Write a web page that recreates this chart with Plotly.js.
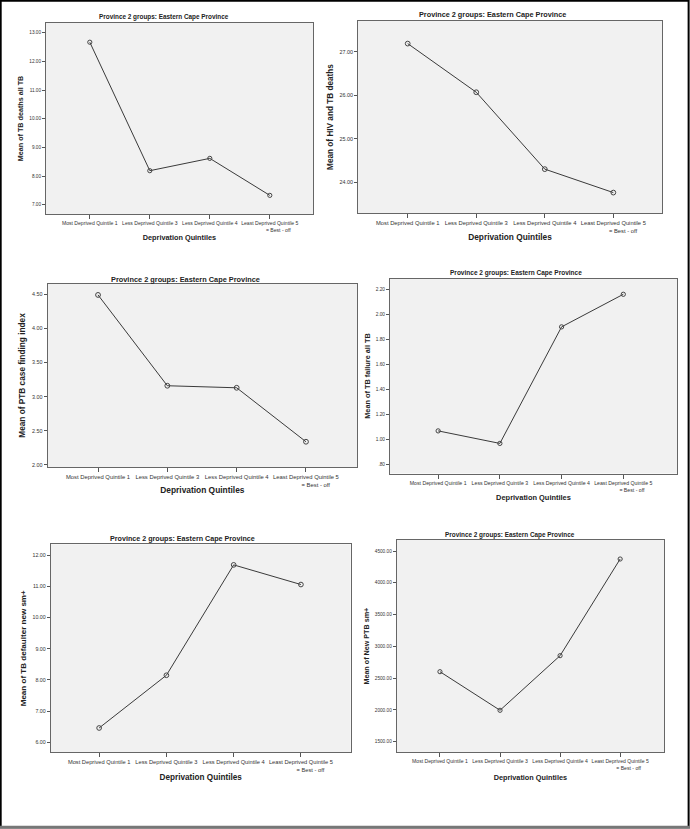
<!DOCTYPE html>
<html>
<head>
<meta charset="utf-8">
<script src="https://cdn.plot.ly/plotly-3.0.1.min.js"></script>
<style>
  html, body { margin: 0; padding: 0; background: #ffffff; }
  #chart { width: 690px; height: 829px; }
</style>
</head>
<body>
<div id="chart"></div>
<script>
// ---------------- DATA ----------------
const categories = [
  "Most Deprived Quintile 1",
  "Less Deprived Quintile 3",
  "Less Deprived Quintile 4",
  "Least Deprived Quintile 5 = Best - off"
];
const categoryTickLabels = [
  "Most Deprived Quintile 1",
  "Less Deprived Quintile 3",
  "Less Deprived Quintile 4",
  "Least Deprived Quintile 5<br>" + "\u00a0".repeat(12) + "= Best - off"
];
const panelTitle = "Province 2 groups: Eastern Cape Province";
const xAxisTitle = "Deprivation Quintiles";

const tbDeathsAll      = [12.67, 8.19, 8.62, 7.33];
const hivTbDeaths      = [27.19, 26.07, 24.30, 23.76];
const ptbCaseFinding   = [4.49, 3.16, 3.13, 2.34];
const tbFailureAll     = [1.07, 0.97, 1.90, 2.16];
const tbDefaulterNewSm = [6.46, 8.15, 11.69, 11.06];
const newPtbSm         = [2601, 1994, 2853, 4374];

const yTitles = [
  "Mean of TB deaths all TB",
  "Mean of HIV and TB deaths",
  "Mean of PTB case finding index",
  "Mean of TB failure all TB",
  "Mean of TB defaulter new sm+",
  "Mean of New PTB sm+"
];

const ticksDeaths    = [7, 8, 9, 10, 11, 12, 13];
const ticksHivTb     = [24, 25, 26, 27];
const ticksCaseFind  = [2.0, 2.5, 3.0, 3.5, 4.0, 4.5];
const ticksFailure   = [0.8, 1.0, 1.2, 1.4, 1.6, 1.8, 2.0, 2.2];
const ticksDefaulter = [6, 7, 8, 9, 10, 11, 12];
const ticksNewPtb    = [1500, 2000, 2500, 3000, 3500, 4000, 4500];

// ---------------- LAYOUT CONFIG (pixels) ----------------
const W = 690, H = 829;
const panels = [
  {data: tbDeathsAll,      ticks: ticksDeaths,    box: [46, 23, 313, 214],       yr: [6.68, 13.34],  xr: [-0.73, 3.72], s: 1.00, tx: 164, ty: 17, so: 3},
  {data: hivTbDeaths,      ticks: ticksHivTb,     box: [358, 21, 662, 213],      yr: [23.29, 27.71], xr: [-0.725, 3.71], s: 1.14, tx: 492, ty: 15, so: 1.5},
  {data: ptbCaseFinding,   ticks: ticksCaseFind,  box: [47.7, 284, 357, 467],    yr: [1.97, 4.65],   xr: [-0.726, 3.736], s: 1.15, tx: 185, ty: 279, so: 0},
  {data: tbFailureAll,     ticks: ticksFailure,   box: [390, 278.5, 677, 473.5], yr: [0.73, 2.286],  xr: [-0.78, 3.87], s: 1.02, tx: 516, ty: 273, so: 2.5},
  {data: tbDefaulterNewSm, ticks: ticksDefaulter, box: [50.7, 544.3, 350.7, 752.3], yr: [5.68, 12.35], xr: [-0.72, 3.74], s: 1.12, tx: 182, ty: 539, so: 2.5},
  {data: newPtbSm,         ticks: ticksNewPtb,    box: [396.7, 540, 664, 752.3], yr: [1333, 4673],   xr: [-0.72, 3.73], s: 1.00, tx: 510, ty: 535, so: 4}
];

function fmtTick(v) {
  let t = v.toFixed(2);
  if (t.startsWith("0.")) t = t.slice(1);
  return t;
}

const FONT = "Liberation Sans, Arial, Helvetica, sans-serif";
const traces = [];
const layout = {
  width: W, height: H,
  margin: {l: 0, r: 0, t: 0, b: 0, pad: 0},
  paper_bgcolor: "#ffffff",
  plot_bgcolor: "#f1f1f1",
  showlegend: false,
  font: {family: FONT, color: "#222"},
  annotations: [],
  shapes: [
    {type: "rect", xref: "paper", yref: "paper", x0: 0.001, x1: 0.998, y0: 0.002, y1: 0.999,
     line: {color: "#000", width: 2}, fillcolor: "rgba(0,0,0,0)"},
    {type: "line", xref: "paper", yref: "paper", x0: 0, x1: 1, y0: 0.002, y1: 0.002,
     line: {color: "#777", width: 3}}
  ]
};

panels.forEach((p, i) => {
  const n = i + 1;
  const xa = n === 1 ? "xaxis" : "xaxis" + n;
  const ya = n === 1 ? "yaxis" : "yaxis" + n;
  const xr = n === 1 ? "x" : "x" + n;
  const yr = n === 1 ? "y" : "y" + n;
  const [l, t, r, b] = p.box;
  const s = p.s;
  traces.push({
    type: "scatter", mode: "lines+markers",
    x: categories, y: p.data,
    xaxis: xr, yaxis: yr,
    line: {color: "#3a3a3a", width: 1},
    marker: {symbol: "circle-open", size: 4.2 * s, color: "#444", line: {width: 1, color: "#444"}},
    hoverinfo: "x+y"
  });
  layout[xa] = {
    domain: [l / W, r / W],
    anchor: yr,
    type: "category",
    categoryorder: "array", categoryarray: categories,
    range: p.xr,
    tickvals: categories, ticktext: categoryTickLabels,
    tickfont: {size: 5.1 * s, color: "#333", family: FONT},
    ticks: "outside", ticklen: 4, tickwidth: 1, tickcolor: "#555",
    showline: true, mirror: true, linecolor: "#666", linewidth: 1,
    showgrid: false, zeroline: false, tickangle: 0,
    title: {text: "<b>" + xAxisTitle + "</b>", font: {size: 7.3 * s, color: "#222", family: FONT}, standoff: p.so}
  };
  layout[ya] = {
    domain: [1 - b / H, 1 - t / H],
    anchor: xr,
    range: p.yr,
    tickvals: p.ticks, ticktext: p.ticks.map(fmtTick),
    tickfont: {size: 4.7 * s, color: "#333", family: FONT},
    ticks: "outside", ticklen: 3, tickwidth: 1, tickcolor: "#555",
    showline: true, mirror: true, linecolor: "#666", linewidth: 1,
    showgrid: false, zeroline: false,
    title: {text: "<b>" + yTitles[i] + "</b>", font: {size: 7.2 * s, color: "#222", family: FONT}, standoff: 4 * s}
  };
  layout.annotations.push({
    xref: "paper", yref: "paper",
    x: p.tx / W, y: 1 - p.ty / H,
    xanchor: "center", yanchor: "middle",
    text: "<b>" + panelTitle + "</b>",
    showarrow: false,
    font: {size: 6.4 * s, color: "#222", family: FONT}
  });
});

Plotly.newPlot("chart", traces, layout, {displayModeBar: false, staticPlot: true});
</script>
</body>
</html>
